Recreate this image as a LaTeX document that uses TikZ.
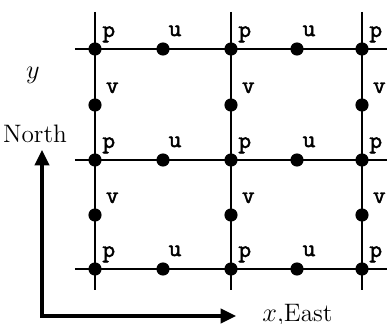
\documentclass[tikz,border=0pt]{standalone}
\usepackage{fontspec}
\newfontfamily\lblfont{lmmono10-regular.otf}[FakeBold=2]
\usetikzlibrary{arrows.meta}
\begin{document}
\begin{tikzpicture}[
    x=0.016cm, y=-0.016cm,
    grid/.style={line width=1.2pt},
    dot/.style={circle, fill, inner sep=0pt, minimum size=6pt},
    lbl/.style={anchor=base west, inner sep=0pt, font=\lblfont\fontsize{11}{12}\selectfont},
    txt/.style={inner sep=0pt, font=\fontsize{11.5}{14}\selectfont},
    axis/.style={line width=1.4pt, {Triangle[length=7pt,width=6.5pt]}-{Triangle[length=7pt,width=6.5pt]}}
  ]
  \useasboundingbox (0,0) rectangle (387,324);
  % grid lines
  \foreach \i/\x in {1/95, 2/231, 3/362} {
    \coordinate (top\i) at (\x,12);
    \coordinate (bot\i) at (\x,290);
    \draw[grid] (top\i) -- (bot\i);
  }
  \foreach \j/\y in {1/49, 2/160, 3/269} {
    \coordinate (left\j) at (75,\y);
    \coordinate (right\j) at (387,\y);
    \draw[grid] (left\j) -- (right\j);
  }
  % p points
  \foreach \i/\x in {1/95, 2/231, 3/362}
    \foreach \j/\y in {1/49, 2/160, 3/269} {
      \node[dot] (p\i\j) at (\x,\y) {};
      \node[lbl] (pl\i\j) at ([shift={(3.2pt,5.5pt)}]p\i\j.center) {p};
    }
  % u points
  \foreach \i/\x in {1/163, 2/297}
    \foreach \j/\y in {1/49, 2/160, 3/269} {
      \node[dot] (u\i\j) at (\x,\y) {};
      \node[lbl] (ul\i\j) at ([shift={(2.4pt,5.9pt)}]u\i\j.center) {u};
    }
  % v points
  \foreach \i/\x in {1/95, 2/231, 3/362}
    \foreach \j/\y in {1/105, 2/215} {
      \node[dot] (v\i\j) at (\x,\y) {};
      \node[lbl] (vl\i\j) at ([shift={(4.8pt,5.5pt)}]v\i\j.center) {v};
    }
  % axes
  \node[txt] (ylab) at (33,75) {$y$};
  \node[txt] (north) at (35,134) {North};
  \coordinate (ntip) at (42,150);
  \coordinate (corner) at (42,316);
  \coordinate (etip) at (236,316);
  \draw[axis] (ntip) -- (corner) -- (etip);
  \node[txt, anchor=base west] (east) at (262,322) {$x$,East};
\end{tikzpicture}
\end{document}
